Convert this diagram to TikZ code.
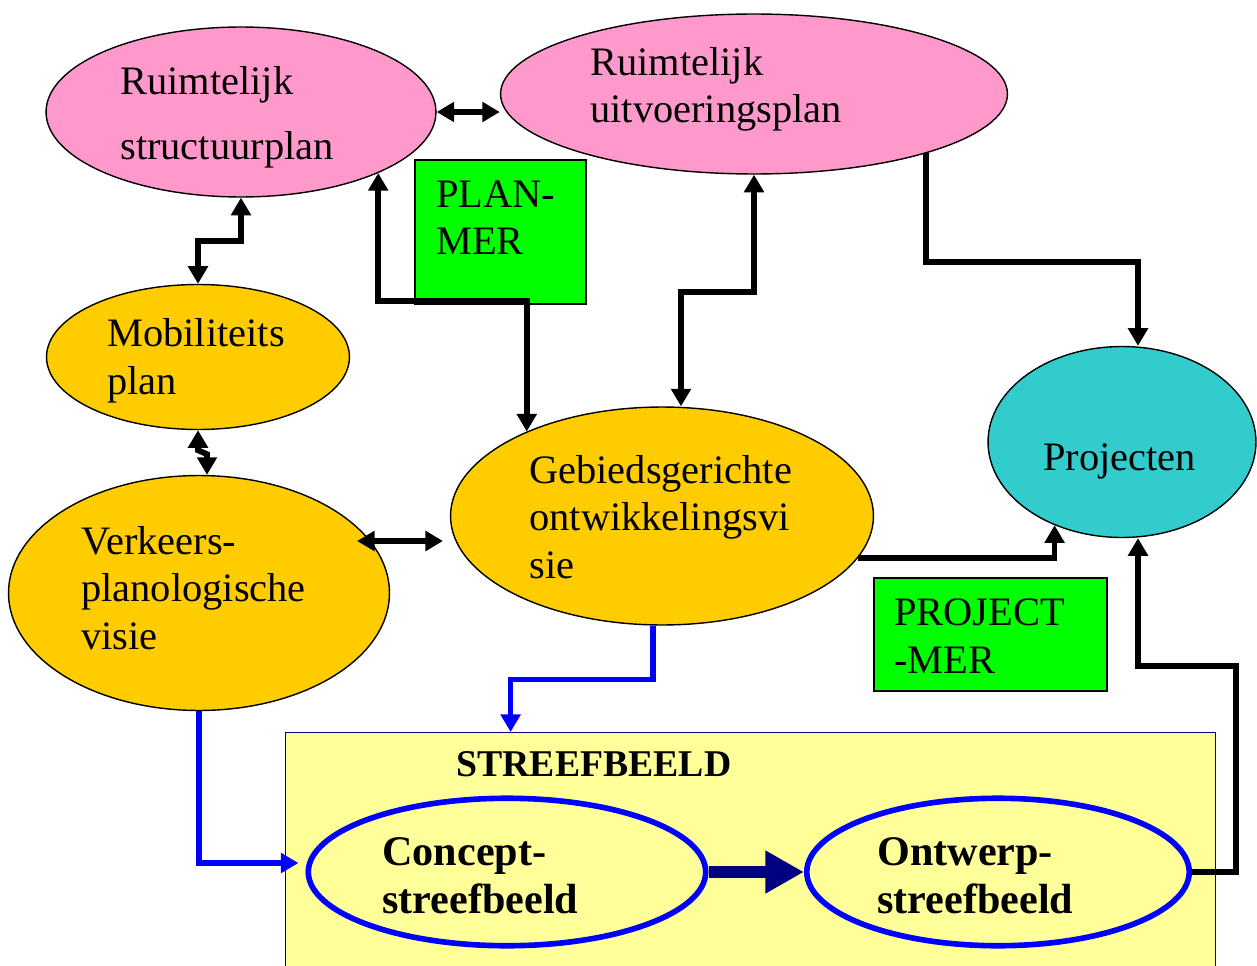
\documentclass[tikz,border=0pt]{standalone}
\usepackage{fontspec}
\setmainfont{Liberation Serif}
\usetikzlibrary{shapes.geometric}
\usetikzlibrary{arrows.meta}
\definecolor{roze}{RGB}{255,153,204}
\definecolor{oranje}{RGB}{255,204,0}
\definecolor{groen}{RGB}{0,255,0}
\definecolor{turkoois}{RGB}{51,204,204}
\definecolor{lichtgeel}{RGB}{255,255,153}
\definecolor{marine}{RGB}{0,0,128}

\begin{document}
\begin{tikzpicture}[x=0.02cm,y=-0.02cm,>={Triangle[length=10pt,width=11pt]},
			font=\fontsize{23}{27}\selectfont]
			\tikzstyle{plan}=[ellipse,draw,line width=0.8pt,inner sep=0pt]
			\tikzstyle{mer}=[rectangle,draw,line width=0.8pt,fill=groen,inner sep=0pt]
			\tikzstyle{tekst}=[anchor=base west,align=left,inner sep=0pt]
			\tikzstyle{pijl}=[line width=3.3pt]
			\tikzstyle{blauw}=[line width=3pt,blue]
			\tikzstyle{streef}=[ellipse,draw=blue,line width=3.2pt,inner sep=0pt]

			\useasboundingbox (0,0) rectangle (1257,966);

			\node[plan,fill=roze,minimum width=7.8cm,minimum height=3.4cm] (rsp) at (241,112) {};
			\node[plan,fill=roze,minimum width=10.14cm,minimum height=3.2cm] (rup) at (754,94) {};
			\node[plan,fill=oranje,minimum width=6.06cm,minimum height=2.9cm] (mob) at (198,357) {};
			\node[plan,fill=oranje,minimum width=7.62cm,minimum height=4.7cm] (vpv) at (199,593) {};
			\node[plan,fill=oranje,minimum width=8.46cm,minimum height=4.36cm] (gov) at (662,516) {};
			\node[plan,fill=turkoois,minimum width=5.36cm,minimum height=3.82cm] (proj) at (1122,442) {};
			\node[mer,minimum width=3.42cm,minimum height=2.88cm] (planmer) at (500.5,232) {};
			\node[mer,minimum width=4.66cm,minimum height=2.26cm] (projmer) at (990.5,634.5) {};
			\node[draw=marine,line width=0.8pt,fill=lichtgeel,inner sep=0pt,anchor=north west,
				minimum width=18.6cm,minimum height=4.9cm] (sb) at (285,732) {};
			\node[streef,minimum width=7.95cm,minimum height=2.95cm] (concept) at (507,872) {};
			\node[streef,minimum width=7.65cm,minimum height=2.95cm] (ontw) at (998,872) {};

			\node[tekst] (rsptxt) at (120,160) {Ruimtelijk\\[10pt]structuurplan};
			\node[tekst] (ruptxt) at (590,123) {Ruimtelijk\\uitvoeringsplan};
			\node[tekst] (planmertxt) at (436,255) {PLAN-\\MER};
			\node[tekst] (mobtxt) at (107,394) {Mobiliteits\\plan};
			\node[tekst] (vpvtxt) at (81,649) {Verkeers-\\planologische\\visie};
			\node[tekst] (govtxt) at (529,578) {Gebiedsgerichte\\ontwikkelingsvi\\sie};
			\node[tekst] (projtxt) at (1043,470) {Projecten};
			\node[tekst] (projmertxt) at (894,673) {PROJECT\\-MER};
			\node[tekst,font=\fontsize{21.5}{26}\selectfont\bfseries] (sbtxt) at (456,776) {STREEFBEELD};
			\node[tekst,font=\fontsize{24}{27}\selectfont\bfseries] (concepttxt) at (382,913) {Concept-\\streefbeeld};
			\node[tekst,font=\fontsize{24}{27}\selectfont\bfseries] (ontwtxt) at (877,913) {Ontwerp-\\streefbeeld};

			\draw[pijl,<->] (rsp.east) -- (rsp.east -| rup.west);
			\draw[pijl,<->] (rsp.south) -- ++(0,43) -| (mob.north);
			\draw[pijl,<->] (mob.south) -- ++(0,20) -- ++(9,4) -- ([shift={(8,0)}]vpv.north);
			\draw[pijl,<->] ([shift={(158,-52)}]vpv.center) -- ([shift={(-219,25)}]gov.center);
			\draw[pijl,<->] (rsp.-24) |- ([shift={(0,-4)}]planmer.south) -| (gov.148);
			\draw[pijl,<->] (rup.south) -- ++(0,117) -| ([shift={(19,0)}]gov.north);
			\draw[pijl,->] (rup.-19) -- ++(0,109) -| ([shift={(16,0)}]proj.north);
			\draw[pijl,->] (gov.-12) -| (proj.-129);
			\draw[pijl,->] (ontw.east) -- ++(44,0) |- ([shift={(16,128)}]proj.south)
				-- ([shift={(16,0)}]proj.south);
			\draw[blauw,->] ([shift={(-9,0)}]gov.south) -- ++(0,54) -| ([shift={(-240,0)}]sb.north);
			\draw[blauw,->] (vpv.south) |- ([shift={(-7,-9)}]concept.west);
			\draw[marine,line width=7pt,-{Triangle[length=22pt,width=23pt]}] (concept.east) -- (ontw.west);
\end{tikzpicture}
\end{document}
